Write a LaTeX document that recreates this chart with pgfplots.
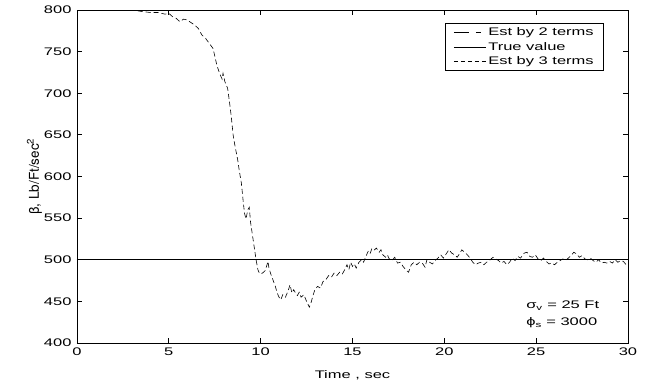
\documentclass[border=0pt]{standalone}
\usepackage{pgfplots}
\pgfplotsset{compat=1.18}
\usepackage{fontspec}
\setmainfont[FakeStretch=1.5]{Liberation Sans}
\newfontfamily\ylabfont{TeX Gyre Heros}
\begin{document}
\begin{tikzpicture}
\begin{axis}[
  scale only axis, width=551pt, height=333pt,
  xmin=0, xmax=30, ymin=400, ymax=800,
  xtick={0,5,...,30}, ytick={400,450,...,800},
  tick align=inside, tick pos=both, major tick length=5pt,
  axis line style={line width=0.8pt}, tick style={line width=0.8pt, black},
  /pgf/number format/assume math mode=true,
  ticklabel style={font=\fontsize{11}{13}\selectfont},
  yticklabel style={xshift=-2pt},
  xticklabel style={yshift=-1pt},
  xlabel={Time , sec},
  xlabel style={font=\fontsize{11}{13}\selectfont, yshift=-8pt},
  ylabel={\ylabfont\fontsize{13.5}{15}\selectfont β, Lb/Ft/sec\textsuperscript{2}},
  ylabel style={yshift=-5pt},
  legend style={at={(0.9565,0.96)}, anchor=north east, draw=black, line width=0.6pt,
    font=\fontsize{11}{12}\selectfont, inner xsep=8pt, inner ysep=2pt, row sep=1pt,
    /tikz/every even column/.append style={column sep=4pt}},
  legend cell align=left,
  legend image code/.code={\draw[#1] (0pt,0pt) -- (32pt,0pt);},
  legend image post style={line width=0.6pt},
]
\addlegendimage{black, line width=0.6pt, dash pattern=on 15pt off 7pt on 5pt off 10pt}
\addlegendentry{Est by 2 terms}
\addlegendimage{black, line width=0.7pt}
\addlegendentry{True value}
\addlegendimage{black, line width=0.6pt, dash pattern=on 4pt off 3pt}
\addlegendentry{Est by 3 terms}
\addplot[forget plot, black, line width=0.6pt, dash pattern=on 5pt off 3pt] coordinates {
(2.0,800)(2.5,799.5)(3.0,800)(3.3,799)(3.6,798)(4.0,797)(4.4,797)(4.8,795)(5.0,796)
(5.2,792)(5.4,790)(5.6,786)(5.8,789)(6.0,788)(6.2,785)(6.4,782)(6.6,778)(6.8,770)
(7.0,766)(7.2,760)(7.4,754)(7.5,745)(7.6,735)(7.7,728)(7.8,722)(7.9,717)(7.95,724)
(8.05,714)(8.2,706)(8.3,690)(8.4,672)(8.5,650)(8.6,637)(8.75,620)(8.85,605)(8.95,592)
(9.05,570)(9.12,556)(9.2,549)(9.3,560)(9.38,563)(9.45,545)(9.55,530)(9.65,515)(9.75,500)
(9.85,488)(9.95,483)(10.1,484)(10.25,487)(10.4,498)(10.45,490)(10.55,483)(10.7,474)
(10.8,468)(10.9,460)(11.0,455)(11.1,452)(11.2,458)(11.35,455)(11.5,463)(11.6,470)
(11.7,460)(11.8,464)(11.9,460)(12.0,457)(12.1,461)(12.2,455)(12.35,458)(12.5,450)
(12.65,443)(12.75,449)(12.85,457)(12.95,464)(13.1,468)(13.25,466)(13.4,474)(13.55,476)
(13.7,481)(13.85,479)(14.0,484)(14.15,481)(14.3,485)(14.45,483)(14.6,489)(14.7,494)
(14.8,488)(14.9,497)(15.0,492)(15.1,495)(15.2,490)(15.35,497)(15.5,500)(15.6,497)
(15.75,505)(15.85,510)(15.95,507)(16.05,513)(16.15,511)(16.3,514)(16.45,509)(16.55,512)
(16.65,506)(16.8,503)(16.9,506)(17.0,501)(17.15,499)(17.3,503)(17.45,496)(17.6,497)
(17.75,492)(17.9,488)(18.05,485)(18.2,494)(18.35,497)(18.5,494)(18.65,497)(18.8,496)
(18.95,491)(19.05,500)(19.2,497)(19.35,495)(19.5,499)(19.65,502)(19.8,506)(19.95,502)
(20.1,507)(20.25,512)(20.4,508)(20.55,506)(20.7,503)(20.85,508)(20.95,512)(21.1,509)
(21.25,506)(21.4,502)(21.55,497)(21.7,494)(21.85,496)(22.0,497)(22.15,494)(22.3,497)
(22.5,500)(22.65,503)(22.8,501)(22.95,499)(23.1,496)(23.25,498)(23.4,494)(23.55,497)
(23.7,502)(23.85,499)(24.0,504)(24.15,502)(24.35,508)(24.5,509)(24.65,504)(24.8,503)
(24.95,506)(25.1,501)(25.25,499)(25.4,502)(25.55,498)(25.7,495)(25.85,496)(26.0,494)
(26.15,497)(26.3,499)(26.45,501)(26.6,499)(26.75,502)(26.9,505)(27.05,509)(27.2,507)
(27.35,503)(27.5,505)(27.65,501)(27.8,500)(27.95,502)(28.1,499)(28.25,497)(28.4,500)
(28.55,496)(28.7,497)(28.85,496)(29.0,498)(29.15,496)(29.3,500)(29.45,497)(29.6,499)
(29.75,498)(29.9,494)(30.0,493)
};
\addplot[forget plot, black, line width=0.7pt] coordinates {(0,500)(30,500)};
\node[anchor=west, font=\fontsize{11}{13}\selectfont, inner sep=0pt] at (axis cs:24.45,445) {σ\textsubscript{v} = 25 Ft};
\node[anchor=west, font=\fontsize{11}{13}\selectfont, inner sep=0pt] at (axis cs:24.45,424) {ϕ\textsubscript{s} = 3000};
\end{axis}
\pgfresetboundingbox
\path (-77pt,-38pt) rectangle (571pt,343pt);
\end{tikzpicture}
\end{document}
